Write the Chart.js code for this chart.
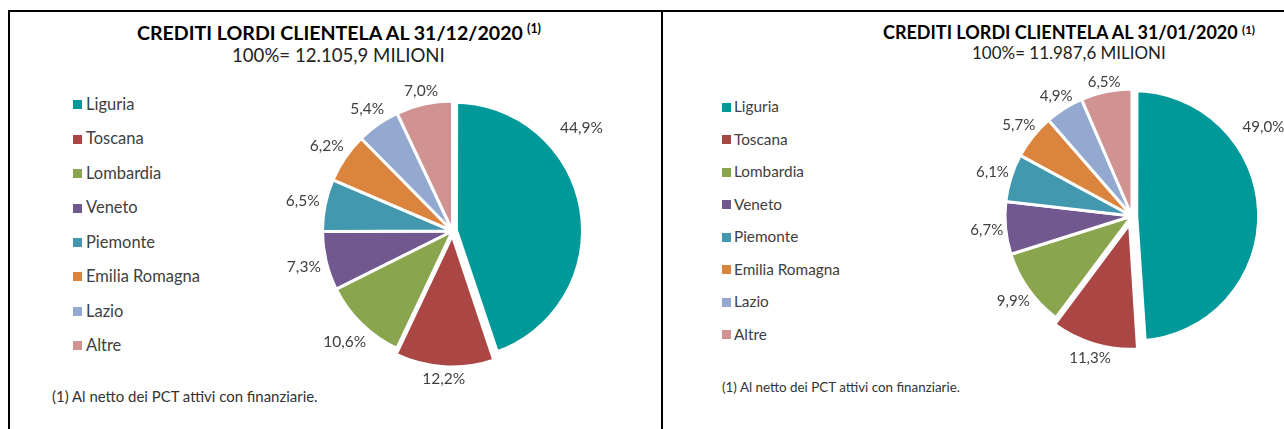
<!DOCTYPE html>
<html><head><meta charset="utf-8">
<script src="https://cdn.jsdelivr.net/npm/chart.js@4.4.1/dist/chart.umd.min.js"></script>
<style>
html,body{margin:0;padding:0;width:1284px;height:429px;overflow:hidden;background:#fff;}
body{position:relative;font-family:Lato,"Noto Sans",sans-serif;color:#404040;}
.ln{position:absolute;background:#000;}
.t{position:absolute;white-space:nowrap;line-height:1;}
.box{position:absolute;}
canvas{position:absolute;}
</style></head><body>
<div class="ln" style="left:8px;top:10px;width:2px;height:419px"></div>
<div class="ln" style="left:8px;top:10px;width:1276px;height:2px"></div>
<div class="ln" style="left:661px;top:10px;width:2px;height:419px"></div>
<script>
// ---- data ----
const regions = ['Liguria','Toscana','Lombardia','Veneto','Piemonte','Emilia Romagna','Lazio','Altre'];
const valuesDec2020 = [44.9, 12.2, 10.6, 7.3, 6.5, 6.2, 5.4, 7.0];
const valuesJan2020 = [49.0, 11.3, 9.9, 6.7, 6.1, 5.7, 4.9, 6.5];
const titles = ['CREDITI LORDI CLIENTELA AL 31/12/2020', 'CREDITI LORDI CLIENTELA AL 31/01/2020'];
const subtitles = ['100%= 12.105,9 MILIONI', '100%= 11.987,6 MILIONI'];
const noteMark = '(1)';
const note = '(1) Al netto dei PCT attivi con finanziarie.';

// ---- style ----
const colors = ['#009999','#AA4643','#89A54E','#71588F','#4198AF','#DB843D','#93A9CF','#D19392'];
const FONT = 'Lato, "Noto Sans", sans-serif';

const panels = [
  {values: valuesDec2020, title: titles[0], sub: subtitles[0],
   cx: 452.5, cy: 231, R: 130, cw: 361, ch: 330,
   off: [6, 18, 0, 0, 0, 0, 0, 0], bw: [8, 3, 3, 3, 3, 3, 3, 3],
   labelW: 43, gap: 5, bigGap: 13,
   titleX: 137, titleW: 386, titleY: 33, supX: 527, supW: 14, supY: 30,
   subX: 232, subW: 213, subY: 56,
   boxX: 73, textX: 86, rowY0: 104.8, rowDy: 34.43, legW: 114,
   noteX: 52, noteW: 266, noteY: 397},
  {values: valuesJan2020, title: titles[1], sub: subtitles[1],
   cx: 1132, cy: 216, R: 127, cw: 350, ch: 320,
   off: [6, 22, 0, 0, 0, 0, 0, 0], bw: [9.5, 5, 3, 3, 3, 3, 3, 3],
   labelW: 41.7, gap: 2, bigGap: 9,
   titleX: 883, titleW: 355, titleY: 33, supX: 1242, supW: 13, supY: 30,
   subX: 972, subW: 194, subY: 53,
   boxX: 722, textX: 734, rowY0: 107.2, rowDy: 32.54, legW: 106,
   noteX: 722, noteW: 238, noteY: 388}
];

function makeText(txt, opts) {
  const el = document.createElement('div');
  el.className = 't';
  el.textContent = txt;
  el.style.fontFamily = FONT;
  el.style.fontWeight = opts.weight || 400;
  el.style.color = opts.color || '#404040';
  document.body.appendChild(el);
  let fs = opts.fs;
  if (!fs) {
    el.style.fontSize = '20px';
    const w = el.getBoundingClientRect().width;
    fs = 20 * opts.w / w;
  }
  el.style.fontSize = fs + 'px';
  el.style.left = opts.x + 'px';
  el.style.top = (opts.y - 0.53 * fs) + 'px';
  return fs;
}
function fitSize(txt, w, weight) {
  const c = document.createElement('canvas').getContext('2d');
  c.font = (weight || 400) + ' 20px ' + FONT;
  return 20 * w / c.measureText(txt).width;
}
const fmt = v => v.toFixed(1).replace('.', ',') + '%';

const pctLabels = {
  id: 'pctLabels',
  afterDatasetsDraw(chart, args, o) {
    const ctx = chart.ctx;
    const meta = chart.getDatasetMeta(0);
    const data = chart.data.datasets[0].data;
    ctx.save();
    ctx.font = o.size + 'px ' + FONT;
    ctx.fillStyle = o.color;
    ctx.textAlign = 'center';
    ctx.textBaseline = 'middle';
    meta.data.forEach((arc, i) => {
      const p = arc.getProps(['x','y','startAngle','endAngle','outerRadius'], true);
      const span = p.endAngle - p.startAngle;
      const mid = (p.startAngle + p.endAngle) / 2;
      const t = (arc.options.offset || 0) / 4;
      const cx = p.x + Math.cos(mid) * t, cy = p.y + Math.sin(mid) * t;
      const r = p.outerRadius + t * (1 - Math.sin(Math.min(Math.PI, span)));
      const big = span > 2.0;
      const a = big ? p.startAngle + span * 0.315 : mid;
      const txt = fmt(data[i]);
      const w = ctx.measureText(txt).width, h = o.size * 0.72;
      const dx = Math.cos(a), dy = Math.sin(a);
      const ext = Math.abs(dx) * w / 2 + Math.abs(dy) * h / 2;
      const d = r + (big ? o.bigGap : o.gap) + ext;
      ctx.fillText(txt, cx + dx * d, cy + dy * d + 0.5);
    });
    ctx.restore();
  }
};

panels.forEach(p => {
  // titles
  makeText(p.title, {x: p.titleX, y: p.titleY, w: p.titleW, weight: 700, color: '#000'});
  makeText(noteMark, {x: p.supX, y: p.supY, w: p.supW, weight: 700, color: '#000'});
  makeText(p.sub, {x: p.subX, y: p.subY, w: p.subW, color: '#222'});
  // legend
  const lfs = fitSize('Emilia Romagna', p.legW);
  regions.forEach((name, i) => {
    const y = p.rowY0 + i * p.rowDy;
    const b = document.createElement('div');
    b.className = 'box';
    b.style.cssText = `left:${p.boxX}px;top:${Math.round(y - 4.5)}px;width:9px;height:9px;background:${colors[i]}`;
    document.body.appendChild(b);
    makeText(name, {x: p.textX, y: y, fs: lfs});
  });
  // note
  makeText(note, {x: p.noteX, y: p.noteY, w: p.noteW, color: '#333'});
  // pie
  const labelSize = fitSize(fmt(Math.max(...p.values)), p.labelW);
  const c = document.createElement('canvas');
  c.width = p.cw; c.height = p.ch;
  c.style.left = (p.cx - p.cw / 2) + 'px';
  c.style.top = (p.cy - p.ch / 2) + 'px';
  c.style.width = p.cw + 'px'; c.style.height = p.ch + 'px';
  document.body.appendChild(c);
  new Chart(c, {
    type: 'pie',
    data: {labels: regions, datasets: [{
      data: p.values,
      backgroundColor: colors,
      borderColor: '#ffffff',
      borderWidth: ctx => p.bw[ctx.dataIndex],
      offset: ctx => p.off[ctx.dataIndex],
      radius: p.R
    }]},
    options: {
      responsive: false, animation: false, events: [],
      layout: {padding: 0},
      plugins: {legend: {display: false}, tooltip: {enabled: false}, title: {display: false},
        pctLabels: {size: labelSize, color: '#404040', gap: p.gap, bigGap: p.bigGap}}
    },
    plugins: [pctLabels]
  });
});
</script>
</body></html>
